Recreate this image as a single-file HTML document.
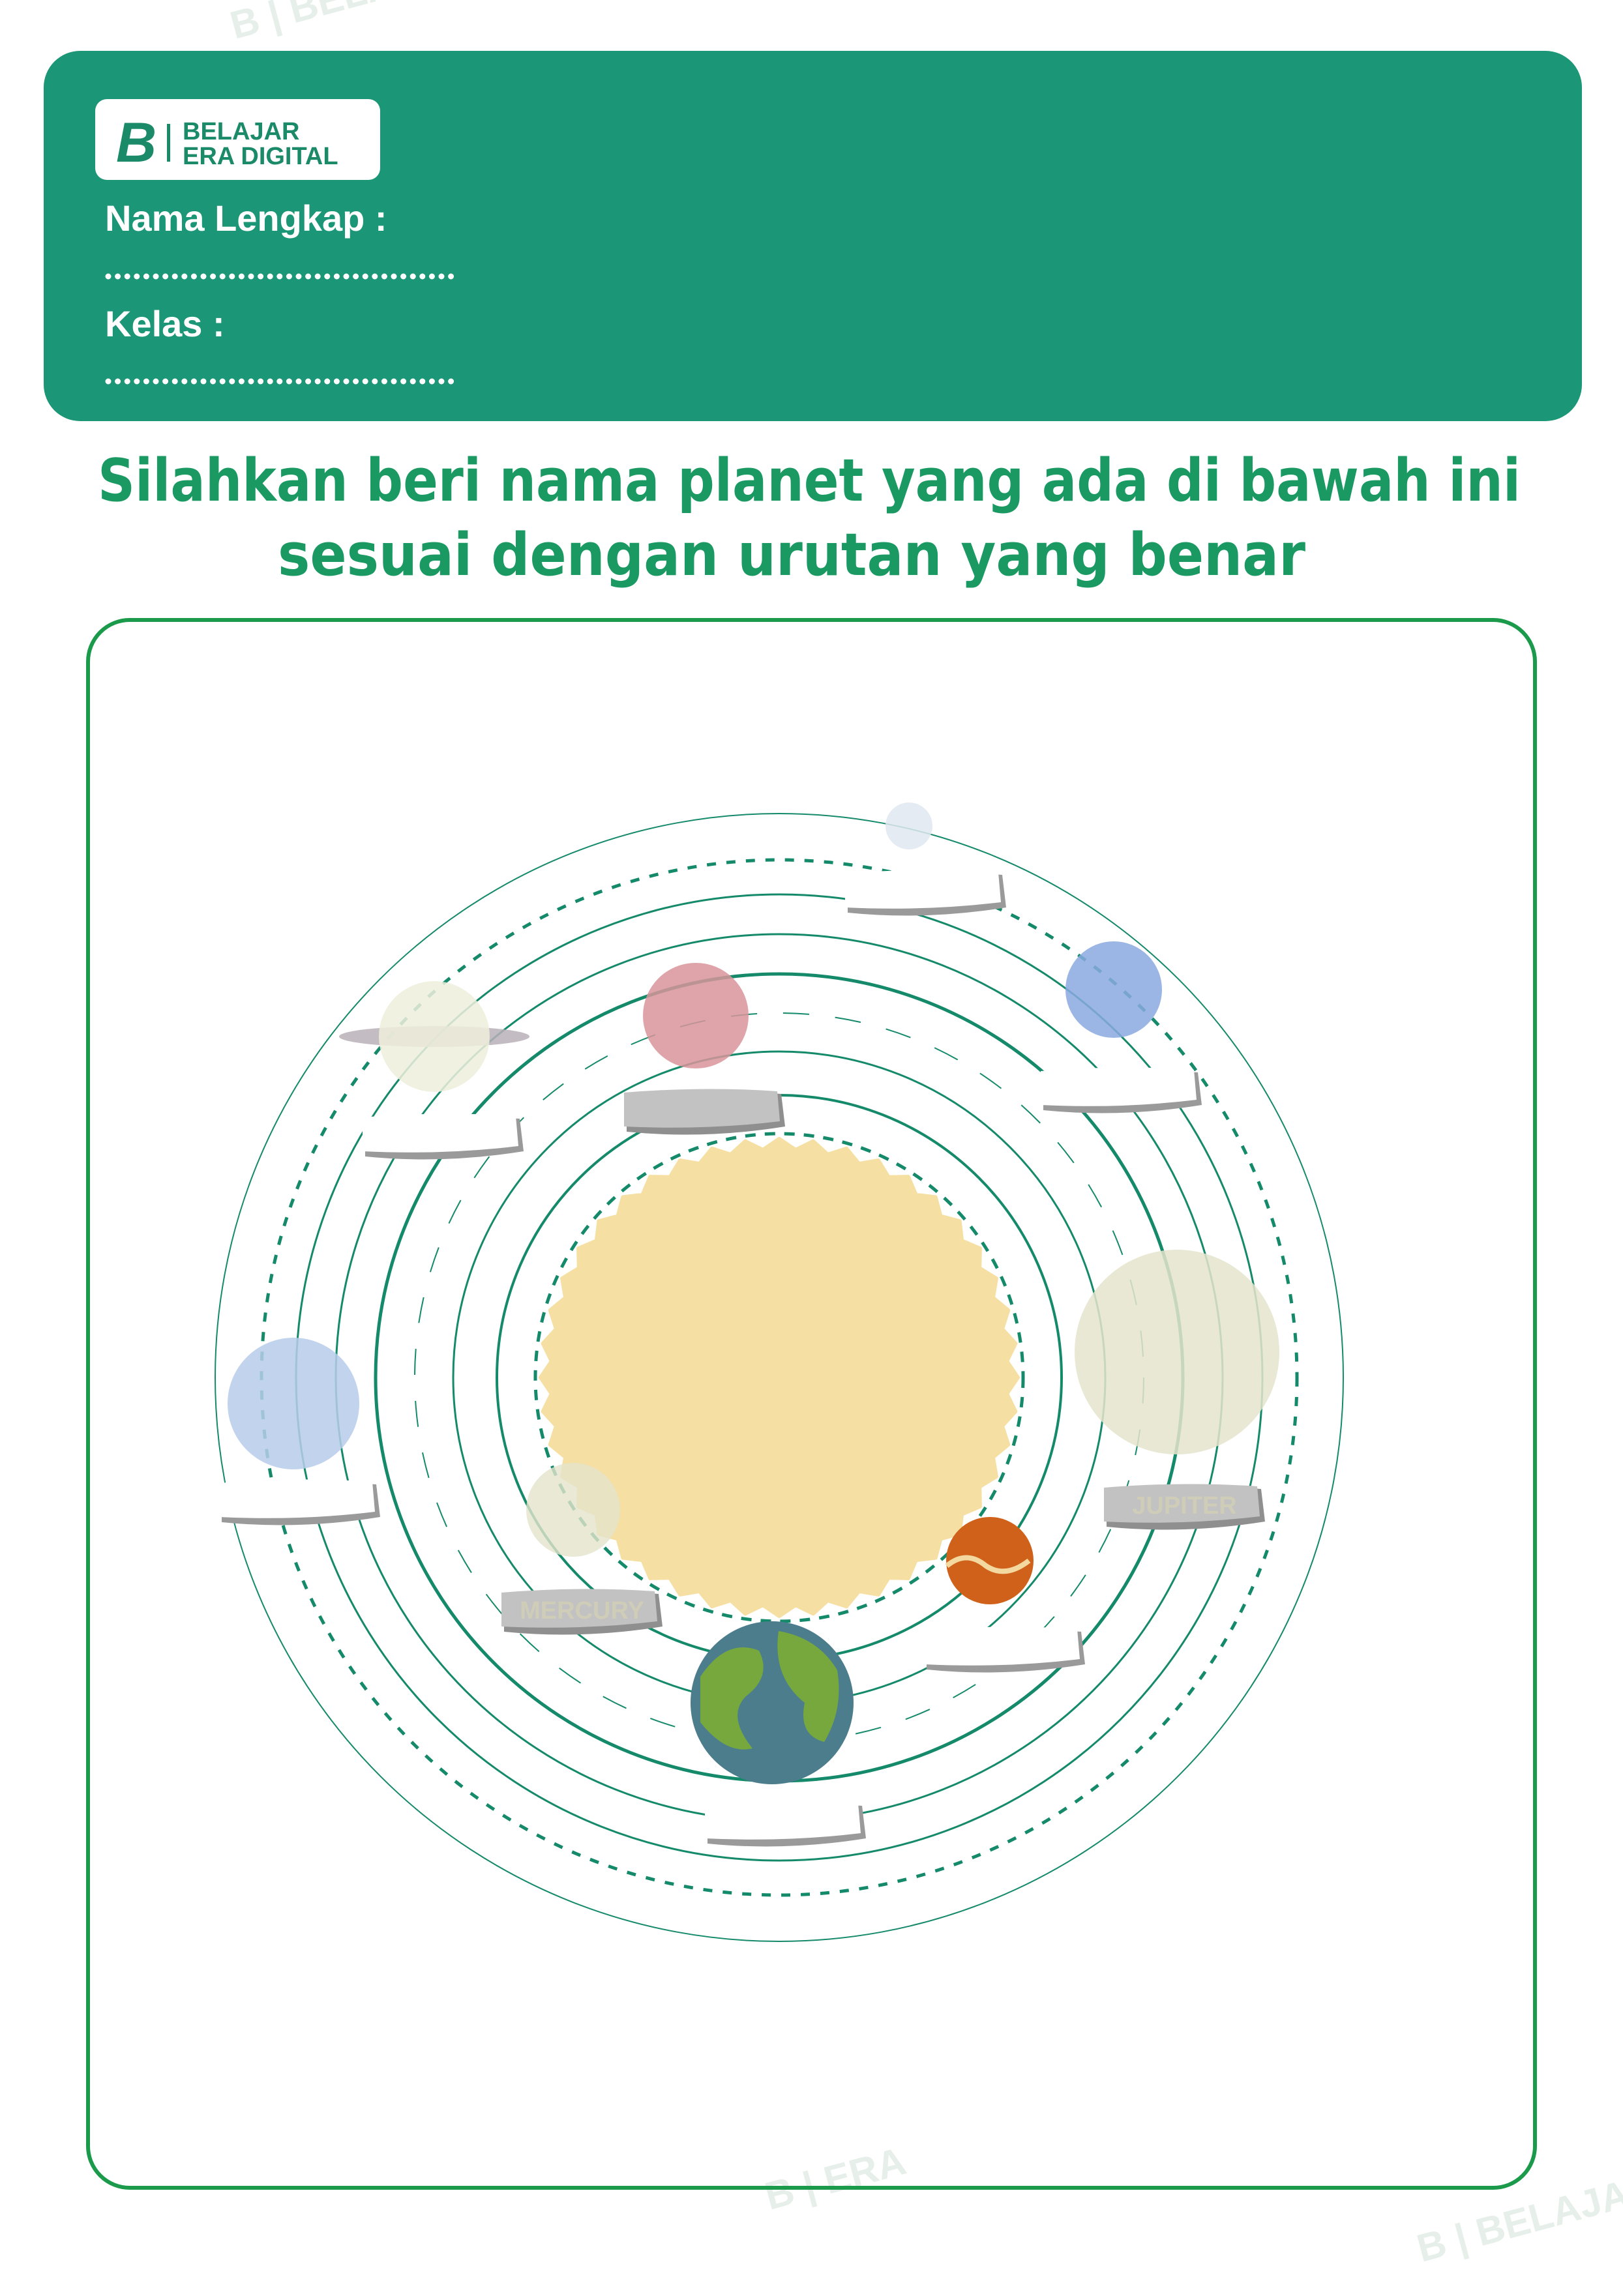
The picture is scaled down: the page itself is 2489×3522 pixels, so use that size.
<!DOCTYPE html>
<html><head><meta charset="utf-8"><style>
html,body{margin:0;padding:0;background:#fff;}
body{width:2489px;height:3517px;position:relative;overflow:hidden;font-family:"Liberation Sans",sans-serif;}
</style></head><body>
<svg width="2489" height="3517" viewBox="0 0 2489 3517" xmlns="http://www.w3.org/2000/svg">
  <rect x="0" y="0" width="2489" height="3517" fill="#fff"/>
  <g fill="#e6efe9" font-weight="bold" font-size="60">
    <text x="360" y="60" transform="rotate(-15 360 60)">B | BELAJAR ERA DIGITAL</text>
    <text x="1180" y="3390" transform="rotate(-15 1180 3390)">B | ERA</text>
    <text x="2180" y="3470" transform="rotate(-15 2180 3470)">B | BELAJAR</text>
  </g>
  <rect x="67" y="78" width="2359" height="568" rx="56" fill="#1b9676"/>
  <rect x="146" y="152" width="437" height="124" rx="18" fill="#fff"/>
  <g>
    <text x="178" y="248" font-size="86" font-weight="bold" fill="#1b8a68" font-style="italic">B</text>
    <rect x="256" y="190" width="5" height="58" fill="#1b8a68"/>
    <text x="280" y="214" font-size="38" font-weight="bold" fill="#1b8a68">BELAJAR</text>
    <text x="280" y="252" font-size="38" font-weight="bold" fill="#1b8a68">ERA DIGITAL</text>
  </g>
  <text x="161" y="354" font-size="56" font-weight="bold" fill="#fff">Nama Lengkap :</text>
  <line x1="166" y1="424" x2="706" y2="424" stroke="#fff" stroke-width="9" stroke-linecap="round" stroke-dasharray="0 14.6"/>
  <text x="161" y="516" font-size="56" font-weight="bold" fill="#fff">Kelas :</text>
  <line x1="166" y1="585" x2="706" y2="585" stroke="#fff" stroke-width="9" stroke-linecap="round" stroke-dasharray="0 14.6"/>
  <text x="150" y="768" font-size="90" font-weight="bold" fill="#1a9a62" font-family="DejaVu Sans, sans-serif" textLength="2182" lengthAdjust="spacingAndGlyphs">Silahkan beri nama planet yang ada di bawah ini</text>
  <text x="426" y="882" font-size="90" font-weight="bold" fill="#1a9a62" font-family="DejaVu Sans, sans-serif" textLength="1576" lengthAdjust="spacingAndGlyphs">sesuai dengan urutan yang benar</text>
  <rect x="135" y="951" width="2219" height="2405" rx="64" fill="none" stroke="#1a9a4a" stroke-width="6"/>
  <g id="orbits"></g>
  <g id="sunG"></g>
  <g id="planets"></g>
  <g id="labels"></g>
</svg>
<script>
const NS='http://www.w3.org/2000/svg';
const cx=1195, cy=2113;
const orbitRadii=[865,794,741,680,619,559,500,433,374];
const orbitWidths=[2,5,3,3,5,2,3,4,5];
const orbitDashes=['','14 16','','','','40 40','','','16 14'];
const og=document.getElementById('orbits');
orbitRadii.forEach((r,i)=>{
  const c=document.createElementNS(NS,'circle');
  c.setAttribute('cx',cx);c.setAttribute('cy',cy);c.setAttribute('r',r);
  c.setAttribute('fill','none');c.setAttribute('stroke','#158a6a');
  c.setAttribute('stroke-width',orbitWidths[i]);
  if(orbitDashes[i])c.setAttribute('stroke-dasharray',orbitDashes[i]);
  
  
  og.appendChild(c);
});
const sg=document.getElementById('sunG');
let pts=[];const N=44;
for(let k=0;k<N*2;k++){const a=k*Math.PI/N;const r=k%2?350:366;pts.push((cx+r*Math.cos(a)).toFixed(1)+','+(cy+r*Math.sin(a)).toFixed(1));}
const sun=document.createElementNS(NS,'polygon');
sun.setAttribute('points',pts.join(' '));sun.setAttribute('fill','#f5dfa2');sun.setAttribute('stroke','#f5dfa2');sun.setAttribute('stroke-width','6');sun.setAttribute('stroke-linejoin','round');


sg.appendChild(sun);
const planetNames=['pluto','uranus','mars','saturn','neptune','jupiter','mercury','venus','earth'];
const planetX=[1394,1708,1067,666,450,1805,879,1518,1184];
const planetY=[1267,1518,1558,1590,2153,2074,2316,2394,2612];
const planetR=[36,74,81,85,101,157,72,67,125];
const planetFill=['#dfe8f0','#8aa9e0','#d9949a','#eeeedc','#b7cdea','#e5e4cc','#e4e4cc','#d0611a','#4b7d8c'];
const planetOpacity=[0.85,0.85,0.85,0.85,0.85,0.85,0.8,1,1];
const pg=document.getElementById('planets');
planetNames.forEach((n,i)=>{
  if(n==='saturn'){
    const e=document.createElementNS(NS,'ellipse');
    e.setAttribute('cx',planetX[i]);e.setAttribute('cy',planetY[i]);
    e.setAttribute('rx',146);e.setAttribute('ry',16);
    e.setAttribute('fill','#b8b0b8');e.setAttribute('opacity',0.85);
    
    
    pg.appendChild(e);
  }
  const c=document.createElementNS(NS,'circle');
  c.setAttribute('cx',planetX[i]);c.setAttribute('cy',planetY[i]);c.setAttribute('r',planetR[i]);
  c.setAttribute('fill',planetFill[i]);c.setAttribute('opacity',planetOpacity[i]);
  
  
  pg.appendChild(c);
  if(n==='earth'){
    const p=document.createElementNS(NS,'path');
    const x=planetX[i],y=planetY[i];
    p.setAttribute('d',`M${x-110} ${y-40} q40 -60 90 -40 q20 40 -20 70 q-30 30 10 80 q-40 10 -80 -40 z M${x+10} ${y-110} q60 10 90 60 q10 60 -20 110 q-40 -10 -30 -60 q-50 -40 -40 -110 z`);
    p.setAttribute('fill','#76a83e');
    
    
    pg.appendChild(p);
  }
  if(n==='venus'){
    const p=document.createElementNS(NS,'path');
    const x=planetX[i],y=planetY[i];
    p.setAttribute('d',`M${x-66} ${y+8} q30 -25 60 0 q30 20 66 -8`);
    p.setAttribute('stroke','#f3d9a0');p.setAttribute('stroke-width',8);p.setAttribute('fill','none');
    
    
    pg.appendChild(p);
  }
});
const labelX=[1296,1596,556,957,1693,336,769,1417,1081];
const labelY=[1334,1637,1708,1670,2276,2269,2437,2495,2762];
const labelText=['','','','','JUPITER','','MERCURY','',''];
const labelGray=[0,0,0,1,1,0,1,0,0];
const lg=document.getElementById('labels');
labelX.forEach((x,i)=>{
  const y=labelY[i],w=247,h=72;
  const sh=document.createElementNS(NS,'path');
  sh.setAttribute('d',`M${x+4} ${y+12} Q${x+w/2} ${y} ${x+w-6} ${y+8} L${x+w} ${y+h-14} Q${x+w/2} ${y+h+6} ${x+4} ${y+h-6} Z`);
  sh.setAttribute('fill',labelGray[i]?'#8f8f8f':'#9a9a9a');
  
  
  lg.appendChild(sh);
  const p=document.createElementNS(NS,'path');
  p.setAttribute('d',`M${x} ${y+6} Q${x+w/2} ${y-4} ${x+w-12} ${y+4} L${x+w-8} ${y+h-22} Q${x+w/2} ${y+h-8} ${x} ${y+h-14} Z`);
  p.setAttribute('fill',labelGray[i]?'#c2c2c2':'#ffffff');
  
  
  lg.appendChild(p);
  if(labelText[i]){
    const t=document.createElementNS(NS,'text');
    t.setAttribute('x',x+w/2);t.setAttribute('y',y+46);
    t.setAttribute('text-anchor','middle');t.setAttribute('font-size',38);t.setAttribute('font-weight','bold');
    t.setAttribute('fill','#cfcdb8');
    t.textContent=labelText[i];
    
    
    lg.appendChild(t);
  }
});
</script>
</body></html>
